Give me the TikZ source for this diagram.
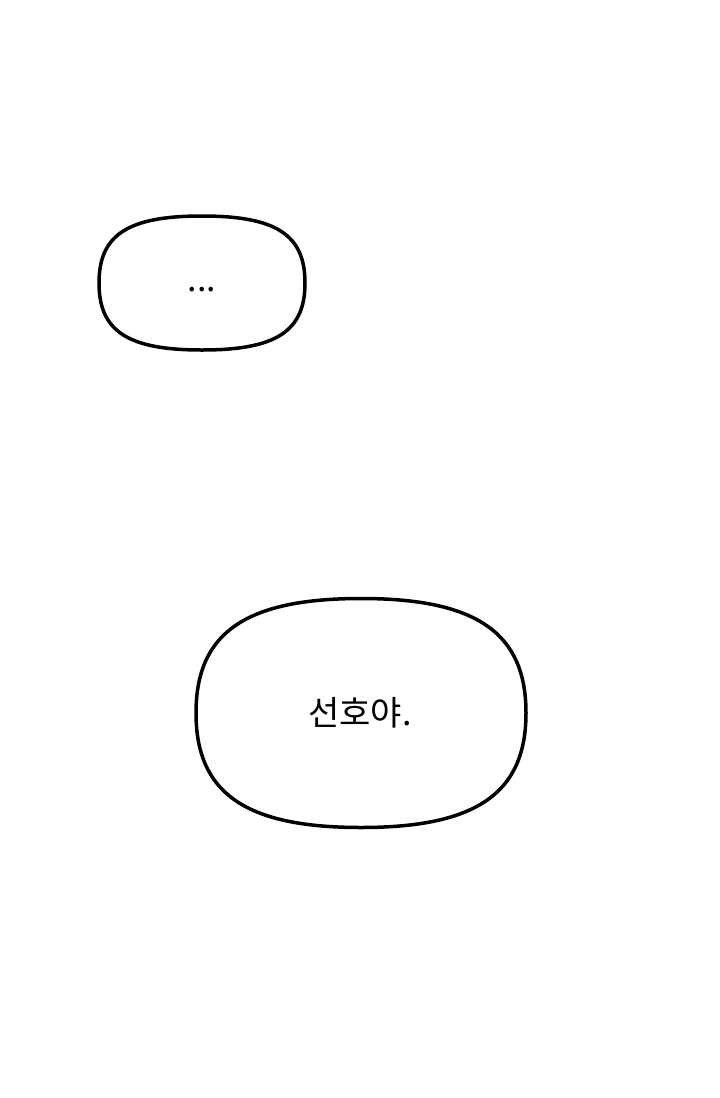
\documentclass[tikz,border=0pt]{standalone}
\usepackage{fontspec}
\setmainfont{Noto Sans CJK KR}
\usetikzlibrary{calc}
\tikzset{bubble/.style={rectangle, inner sep=0pt, outer sep=0pt, align=center, font=\fontsize{34}{40}\selectfont},
         outline/.style={draw=black, line width=3.5pt, fill=white}}
% rounded squircle through the side anchors of a node
\newcommand{\squircle}[2]{%
  \draw[outline] (#1.east)
    .. controls ($(#1.east)!#2!(#1.north east)$) and ($(#1.north)!#2!(#1.north east)$) .. (#1.north)
    .. controls ($(#1.north)!#2!(#1.north west)$) and ($(#1.west)!#2!(#1.north west)$) .. (#1.west)
    .. controls ($(#1.west)!#2!(#1.south west)$) and ($(#1.south)!#2!(#1.south west)$) .. (#1.south)
    .. controls ($(#1.south)!#2!(#1.south east)$) and ($(#1.east)!#2!(#1.south east)$) .. (#1.east) -- cycle;}

\begin{document}
\begin{tikzpicture}[x=1pt, y=-1pt]
    \useasboundingbox (0,0) rectangle (720,1098);
    \node (dots) [bubble, minimum width=206pt, minimum height=134pt] at (202,283) {};
    \node (name) [bubble, minimum width=330pt, minimum height=229pt] at (361,713) {};
    \squircle{dots}{0.72}
    \squircle{name}{0.70}
    \node (dotstext) [bubble] at (202,290) {...};
    \node (nametext) [bubble] at (360,713) {선호야.};
\end{tikzpicture}
\end{document}
